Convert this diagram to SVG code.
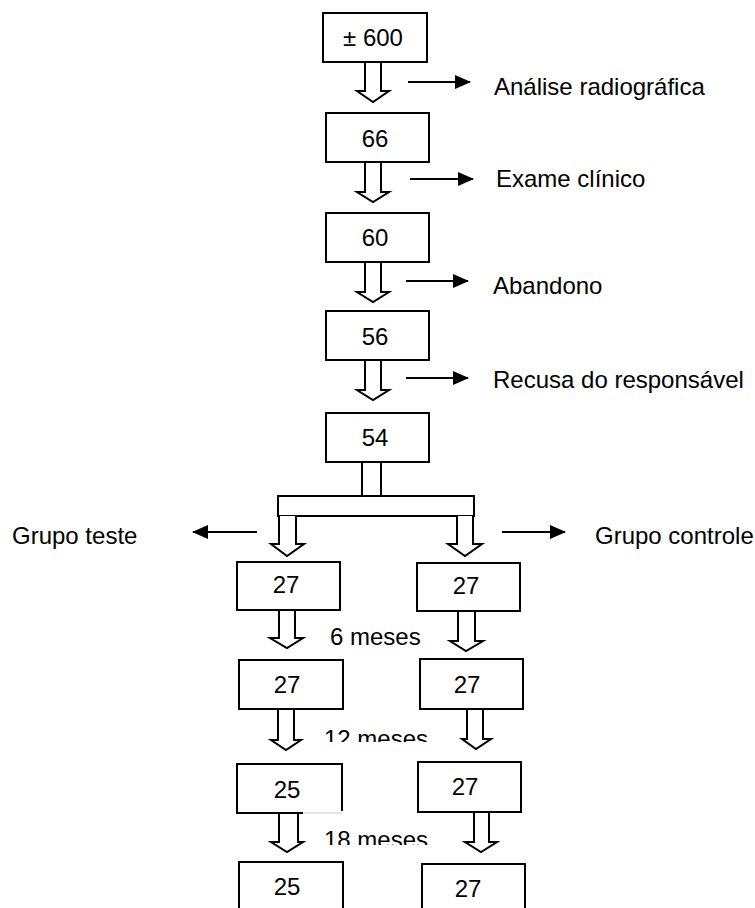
<svg xmlns="http://www.w3.org/2000/svg" width="755" height="908" viewBox="0 0 755 908">
<style>
.box{fill:#fff;stroke:#000;stroke-width:2}
.t{font-family:"Liberation Sans",Arial,sans-serif;font-size:24px;fill:#000}
.c{text-anchor:middle}
.ha{fill:#fff;stroke:#000;stroke-width:2;stroke-linejoin:miter}
.ln{stroke:#000;stroke-width:1.8;fill:none}
</style>
<defs>
<marker id="ah" markerWidth="16" markerHeight="14" refX="15" refY="7" orient="auto" markerUnits="userSpaceOnUse">
<path d="M0,0 L16,7 L0,14 Z" fill="#000"/>
</marker>
<clipPath id="clip12"><rect x="300" y="700" width="150" height="42"/></clipPath>
<clipPath id="clip18"><rect x="300" y="800" width="150" height="45"/></clipPath>
</defs>
<rect width="755" height="908" fill="#fff"/>

<g id="connectors">
<path class="ha" d="M365,62 V91 H357 L373,102 L389,91 H381 V62"/>
<path class="ha" d="M365,162 V192 H357 L373,202 L389,192 H381 V162"/>
<path class="ha" d="M365,262 V292 H357 L373,302 L389,292 H381 V262"/>
<path class="ha" d="M365,360 V390 H357 L373,400 L389,390 H381 V360"/>
<line class="ln" x1="408" y1="82" x2="470" y2="82" marker-end="url(#ah)"/>
<line class="ln" x1="410" y1="179" x2="473" y2="179" marker-end="url(#ah)"/>
<line class="ln" x1="406" y1="281" x2="468" y2="281" marker-end="url(#ah)"/>
<line class="ln" x1="406" y1="378" x2="468" y2="378" marker-end="url(#ah)"/>
<rect class="ha" x="362" y="460" width="19" height="36"/>
<rect class="ha" x="278" y="496" width="196" height="20"/>
<path class="ha" d="M279,516 V544 H271 L287,556 L304,544 H296 V516"/>
<path class="ha" d="M457,516 V544 H448 L465,556 L482,544 H473 V516"/>
<line class="ln" x1="257" y1="532" x2="193" y2="532" marker-end="url(#ah)"/>
<line class="ln" x1="502" y1="532" x2="565" y2="532" marker-end="url(#ah)"/>
<path class="ha" d="M279,610 V638 H270 L287,648 L303,638 H295 V610"/>
<path class="ha" d="M278,709 V740 H271 L286,750 L301,740 H294 V709"/>
<path class="ha" d="M279,813 V842 H271 L287,852 L303,842 H298 V813"/>
<path class="ha" d="M458,611 V641 H450 L466,651 L483,641 H475 V611"/>
<path class="ha" d="M467,709 V739 H462 L476,749 L491,739 H483 V709"/>
<path class="ha" d="M474,812 V842 H465 L481,852 L497,842 H489 V812"/>
</g>

<g id="n600"><rect class="box" x="323" y="13" width="104" height="49"/><text class="t c" x="373" y="46">± 600</text></g>
<g id="n66"><rect class="box" x="326" y="113" width="103" height="49"/><text class="t c" x="375" y="147">66</text></g>
<g id="n60"><rect class="box" x="326" y="213" width="103" height="49"/><text class="t c" x="375" y="246">60</text></g>
<g id="n56"><rect class="box" x="326" y="311" width="103" height="49"/><text class="t c" x="375" y="345">56</text></g>
<g id="n54"><rect class="box" x="326" y="413" width="103" height="49"/><text class="t c" x="375" y="446">54</text></g>

<g id="l-analise"><text class="t" x="494" y="95">Análise radiográfica</text></g>
<g id="l-exame"><text class="t" x="496" y="187">Exame clínico</text></g>
<g id="l-abandono"><text class="t" x="493" y="294">Abandono</text></g>
<g id="l-recusa"><text class="t" x="493" y="388">Recusa do responsável</text></g>
<g id="l-teste"><text class="t" x="12" y="544">Grupo teste</text></g>
<g id="l-controle"><text class="t" x="595" y="544">Grupo controle</text></g>

<g id="t27a"><rect class="box" x="237" y="562" width="103" height="48"/><text class="t c" x="286" y="593">27</text></g>
<g id="c27a"><rect class="box" x="417" y="563" width="103" height="48"/><text class="t c" x="466" y="594">27</text></g>
<g id="l-6"><text class="t" x="330" y="645">6 meses</text></g>
<g id="t27b"><rect class="box" x="239" y="660" width="104" height="49"/><text class="t c" x="287" y="693">27</text></g>
<g id="c27b"><rect class="box" x="420" y="659" width="103" height="50"/><text class="t c" x="467" y="693">27</text></g>
<g id="l-12"><text class="t" x="324" y="747" clip-path="url(#clip12)">12 meses</text></g>
<g id="t25a"><rect class="box" x="237" y="764" width="105" height="49"/><text class="t c" x="287" y="798">25</text><rect x="303" y="811" width="41" height="4" fill="#fff"/><line x1="303" y1="813" x2="342" y2="813" stroke="#e6e6e6" stroke-width="2"/></g>
<g id="c27c"><rect class="box" x="418" y="762" width="103" height="50"/><text class="t c" x="465" y="795">27</text></g>
<g id="l-18"><text class="t" x="324" y="848" clip-path="url(#clip18)">18 meses</text></g>
<g id="t25b"><rect class="box" x="239" y="862" width="104" height="60"/><text class="t c" x="287" y="895">25</text></g>
<g id="c27d"><rect class="box" x="422" y="864" width="103" height="60"/><text class="t c" x="468" y="897">27</text></g>
</svg>
